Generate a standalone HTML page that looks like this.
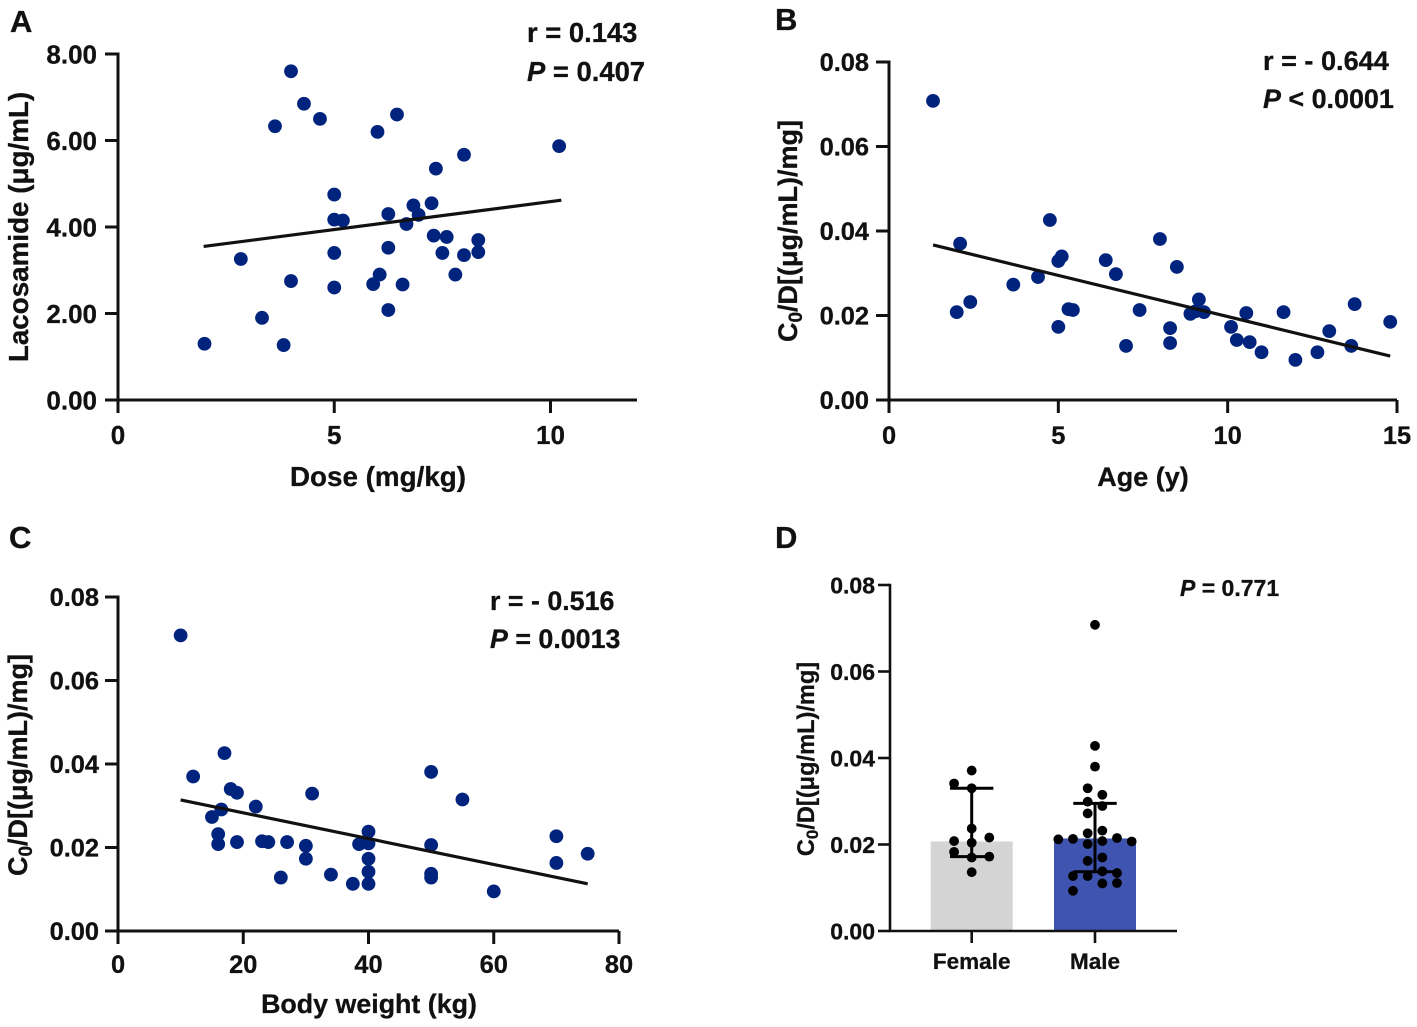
<!DOCTYPE html>
<html lang="en">
<head>
<meta charset="utf-8">
<title>Lacosamide correlation charts</title>
<style>
html,body{margin:0;padding:0;background:#fff;}
svg{display:block;}
text{font-family:"Liberation Sans",Arial,sans-serif;font-weight:700;fill:#111;stroke:#111;stroke-width:0.3px;}
</style>
</head>
<body>
<svg id="figure" width="1417" height="1027" viewBox="0 0 1417 1027" xmlns="http://www.w3.org/2000/svg">
  <rect width="1417" height="1027" fill="#fff"/>

  <text x="10" y="32" font-size="31">A</text>
  <text x="775" y="30" font-size="31">B</text>
  <text x="9" y="548" font-size="31">C</text>
  <text x="775" y="548" font-size="31">D</text>

  <text transform="translate(28,227) rotate(-90)" text-anchor="middle" font-size="27.8">Lacosamide (μg/mL)</text>
  <text x="378" y="486" text-anchor="middle" font-size="27.8">Dose (mg/kg)</text>
  <text x="527" y="42" font-size="27.4">r = 0.143</text>
  <text x="527" y="81" font-size="27.4"><tspan font-style="italic">P</tspan> = 0.407</text>

  <text transform="translate(797,231) rotate(-90)" text-anchor="middle" font-size="27">C<tspan dy="5" font-size="19">0</tspan><tspan dy="-5">/D[(μg/mL)/mg]</tspan></text>
  <text x="1143" y="486" text-anchor="middle" font-size="27">Age (y)</text>
  <text x="1263" y="70" font-size="27.1">r = - 0.644</text>
  <text x="1263" y="108" font-size="26.9"><tspan font-style="italic">P</tspan> &lt; 0.0001</text>

  <text transform="translate(27,765) rotate(-90)" text-anchor="middle" font-size="27">C<tspan dy="5" font-size="19">0</tspan><tspan dy="-5">/D[(μg/mL)/mg]</tspan></text>
  <text x="369" y="1013" text-anchor="middle" font-size="26.8">Body weight (kg)</text>
  <text x="490" y="610" font-size="26.8">r = - 0.516</text>
  <text x="490" y="648" font-size="26.8"><tspan font-style="italic">P</tspan> = 0.0013</text>

  <text transform="translate(814,759) rotate(-90)" text-anchor="middle" font-size="23.6">C<tspan dy="4" font-size="17">0</tspan><tspan dy="-4">/D[(μg/mL)/mg]</tspan></text>
  <text x="1180" y="596" font-size="23"><tspan font-style="italic">P</tspan> = 0.771</text>

  <g id="plots"></g>
</svg>

<script>
/* Panel A */
const doseValues = [2.0,2.84,3.33,3.83,4.0,4.0,3.63,4.3,4.67,5,5,5.2,5,5,6,6.45,6.25,6.25,6.25,6.05,5.9,6.58,6.67,6.83,6.95,7.25,7.35,7.3,7.6,7.5,7.8,8.0,8.0,8.33,8.33,10.2];
const lacosamideValues = [1.3,3.26,1.9,1.27,2.75,7.6,6.33,6.85,6.5,4.75,4.17,4.15,3.4,2.6,6.2,6.6,4.3,3.52,2.08,2.9,2.68,2.67,4.07,4.5,4.28,4.55,5.35,3.8,3.77,3.4,2.9,5.67,3.35,3.7,3.42,5.87];
const fitDoseX = [1.98,10.25];
const fitDoseY = [3.55,4.62];
const doseTicks = [0,5,10];
const doseTickLabels = ["0","5","10"];
const lacosamideTicks = [0,2,4,6,8];
const lacosamideTickLabels = ["0.00","2.00","4.00","6.00","8.00"];

/* Panel B */
const ageValues = [1.3,2.1,2.0,2.4,3.67,4.4,4.75,5,5.1,5,5.3,5.43,6.4,6.7,7,7.4,8,8.5,8.3,8.3,8.9,9.05,9.15,9.3,10.1,10.27,10.55,10.65,11,11.65,12,12.65,13,13.65,13.75,14.8];
const ageRatioValues = [0.0708,0.037,0.0208,0.0232,0.0273,0.0291,0.0426,0.0329,0.034,0.0173,0.0215,0.0213,0.0331,0.0298,0.0128,0.0213,0.0381,0.0315,0.017,0.0135,0.0204,0.021,0.0238,0.0208,0.0173,0.0142,0.0206,0.0137,0.0113,0.0208,0.0095,0.0113,0.0163,0.0128,0.0227,0.0185];
const fitAgeX = [1.3,14.8];
const fitAgeY = [0.0367,0.0104];
const ageTicks = [0,5,10,15];
const ageTickLabels = ["0","5","10","15"];
const ratioTicks = [0,0.02,0.04,0.06,0.08];
const ratioTickLabels = ["0.00","0.02","0.04","0.06","0.08"];

/* Panel C */
const weightValues = [10,12,15,16.5,17,16,16,18,19,19,22,23,24,26,27,31,30,30,34,37.5,38.5,40,40,40,40,40,50,50,50,50,55,60,70,70,75];
const weightRatioValues = [0.0708,0.037,0.0273,0.0291,0.0426,0.0232,0.0208,0.034,0.0331,0.0213,0.0298,0.0215,0.0213,0.0128,0.0213,0.0329,0.0204,0.0173,0.0135,0.0113,0.0208,0.021,0.0238,0.0173,0.0142,0.0113,0.0381,0.0206,0.0137,0.0128,0.0315,0.0095,0.0227,0.0163,0.0185];
const fitWeightX = [10,75];
const fitWeightY = [0.0314,0.0113];
const weightTicks = [0,20,40,60,80];
const weightTickLabels = ["0","20","40","60","80"];

/* Panel D */
const sexCategories = ["Female","Male"];
const barMedians = [0.0207,0.0214];
const errorUpper = [0.0330,0.0295];
const errorLower = [0.0172,0.0137];
const femaleValues = [0.0371,0.0341,0.0330,0.0237,0.0208,0.0216,0.0204,0.0183,0.0170,0.0172,0.0136];
const femaleSwarmColumns = [0,-1.2,0,0,-1.2,1.2,0,-1.2,0,1.2,0];
const maleValues = [0.0708,0.0428,0.0380,0.0330,0.0315,0.0299,0.0289,0.0272,0.0232,0.0226,0.0212,0.0213,0.0208,0.0215,0.0207,0.0201,0.0170,0.0162,0.0138,0.0134,0.0127,0.0127,0.0110,0.0111,0.0093];
const maleSwarmColumns = [0,0,0,-0.5,0.5,-0.5,0.5,-0.5,0.5,-0.5,-2.5,-1.5,0.5,1.5,2.5,-0.5,0.5,-0.5,0.5,1.5,-1.5,-0.5,0.5,1.5,-1.5];

const SVGNS = "http://www.w3.org/2000/svg";
const plots = document.getElementById("plots");

function make(tag, attrs, parent, text) {
  const node = document.createElementNS(SVGNS, tag);
  for (const key in attrs) node.setAttribute(key, attrs[key]);
  if (text !== undefined) node.textContent = text;
  parent.appendChild(node);
  return node;
}
function linear(d0, d1, r0, r1) {
  return v => r0 + (v - d0) * (r1 - r0) / (d1 - d0);
}

function drawAxes(id, parent, sx, sy, box, xTicks, xLabels, yTicks, yLabels, fontSize, xLabelY, yLabelGap, tickLen) {
  const xAxis = make("line", {x1: box.left - 1.5, x2: box.right, y1: box.bottom, y2: box.bottom, stroke: "#111", "stroke-width": 3}, parent);
  
  
  const yAxis = make("line", {x1: box.left, x2: box.left, y1: box.top - 1.5, y2: box.bottom, stroke: "#111", "stroke-width": 3}, parent);
  
  
  xTicks.forEach((t, i) => {
    const tick = make("line", {x1: sx(t), x2: sx(t), y1: box.bottom, y2: box.bottom + tickLen, stroke: "#111", "stroke-width": 3}, parent);
    
    
    const label = make("text", {x: sx(t), y: xLabelY, "text-anchor": "middle", "font-size": fontSize}, parent, xLabels[i]);
    
    
  });
  yTicks.forEach((t, i) => {
    const tick = make("line", {x1: box.left - tickLen, x2: box.left, y1: sy(t), y2: sy(t), stroke: "#111", "stroke-width": 3}, parent);
    
    
    const label = make("text", {x: box.left - yLabelGap, y: sy(t) + fontSize * 0.36, "text-anchor": "end", "font-size": fontSize}, parent, yLabels[i]);
    
    
  });
}

function drawScatter(id, box, xDomain, yDomain, xs, ys, fitX, fitY, xTicks, xLabels, yTicks, yLabels, xLabelY, yLabelGap, fontSize) {
  const g = make("g", {}, plots);
  
  
  const sx = linear(xDomain[0], xDomain[1], box.left, box.right);
  const sy = linear(yDomain[0], yDomain[1], box.bottom, box.top);
  drawAxes(id, g, sx, sy, box, xTicks, xLabels, yTicks, yLabels, fontSize, xLabelY, yLabelGap, 13);
  xs.forEach((x, i) => {
    const dot = make("circle", {cx: sx(x), cy: sy(ys[i]), r: 6.9, fill: "#00247d"}, g);
    
    
  });
  const fit = make("line", {x1: sx(fitX[0]), y1: sy(fitY[0]), x2: sx(fitX[1]), y2: sy(fitY[1]), stroke: "#111", "stroke-width": 3.2}, g);
  
  
}

drawScatter("a", {left: 118, right: 637, top: 54, bottom: 400}, [0, 12], [0, 8],
  doseValues, lacosamideValues, fitDoseX, fitDoseY, doseTicks, doseTickLabels, lacosamideTicks, lacosamideTickLabels, 444, 21, 26);
drawScatter("b", {left: 889, right: 1397, top: 62, bottom: 400}, [0, 15], [0, 0.08],
  ageValues, ageRatioValues, fitAgeX, fitAgeY, ageTicks, ageTickLabels, ratioTicks, ratioTickLabels, 444, 20, 25.4);
drawScatter("c", {left: 118, right: 619, top: 597, bottom: 931}, [0, 80], [0, 0.08],
  weightValues, weightRatioValues, fitWeightX, fitWeightY, weightTicks, weightTickLabels, ratioTicks, ratioTickLabels, 973, 19, 25.4);

(function drawBars() {
  const box = {left: 890, right: 1177, top: 585, bottom: 931};
  const g = make("g", {}, plots);
  
  
  const sy = linear(0, 0.08, box.bottom, box.top);
  const centers = [971.7, 1095];
  const colors = ["#d4d4d4", "#3f54b0"];
  const barWidth = 82;
  const step = 14.67;
  const capHalf = 21.7;

  sexCategories.forEach((c, i) => {
    const bar = make("rect", {x: centers[i] - barWidth / 2, y: sy(barMedians[i]), width: barWidth, height: box.bottom - sy(barMedians[i]), fill: colors[i]}, g);
    
    
  });

  const pointSets = [[femaleValues, femaleSwarmColumns], [maleValues, maleSwarmColumns]];
  pointSets.forEach((set, i) => {
    set[0].forEach((v, k) => {
      const dot = make("circle", {cx: centers[i] + set[1][k] * step, cy: sy(v), r: 4.9, fill: "#000"}, g);
      
      
    });
  });

  sexCategories.forEach((c, i) => {
    const stem = make("line", {x1: centers[i], x2: centers[i], y1: sy(errorUpper[i]), y2: sy(errorLower[i]), stroke: "#000", "stroke-width": 3}, g);
    
    
    const capTop = make("line", {x1: centers[i] - capHalf, x2: centers[i] + capHalf, y1: sy(errorUpper[i]), y2: sy(errorUpper[i]), stroke: "#000", "stroke-width": 3}, g);
    
    
    const capBottom = make("line", {x1: centers[i] - capHalf, x2: centers[i] + capHalf, y1: sy(errorLower[i]), y2: sy(errorLower[i]), stroke: "#000", "stroke-width": 3}, g);
    
    
  });

  const xAxis = make("line", {x1: box.left - 1.5, x2: box.right, y1: box.bottom, y2: box.bottom, stroke: "#111", "stroke-width": 2.6}, g);
  
  
  const yAxis = make("line", {x1: box.left, x2: box.left, y1: box.top - 1.3, y2: box.bottom, stroke: "#111", "stroke-width": 2.6}, g);
  
  

  sexCategories.forEach((c, i) => {
    const tick = make("line", {x1: centers[i], x2: centers[i], y1: box.bottom, y2: box.bottom + 12, stroke: "#111", "stroke-width": 2.6}, g);
    
    
    const label = make("text", {x: centers[i], y: 969, "text-anchor": "middle", "font-size": 22.5}, g, c);
    
    
  });
  ratioTicks.forEach((t, i) => {
    const tick = make("line", {x1: box.left - 12, x2: box.left, y1: sy(t), y2: sy(t), stroke: "#111", "stroke-width": 2.6}, g);
    
    
    const label = make("text", {x: box.left - 15, y: sy(t) + 8.3, "text-anchor": "end", "font-size": 23}, g, ratioTickLabels[i]);
    
    
  });
})();
</script>
</body>
</html>
